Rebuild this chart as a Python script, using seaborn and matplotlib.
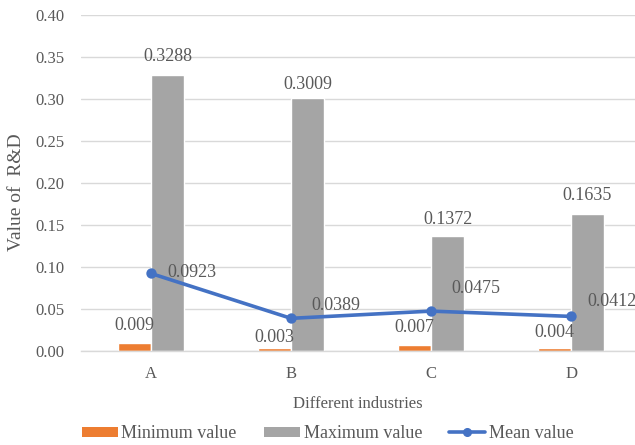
import matplotlib
matplotlib.use("Agg")
import matplotlib.pyplot as plt
from matplotlib.lines import Line2D
from matplotlib.patches import Patch
import pandas as pd
import seaborn as sns

# Data
industries = ["A", "B", "C", "D"]
min_values = [0.009, 0.003, 0.007, 0.004]
max_values = [0.3288, 0.3009, 0.1372, 0.1635]
mean_values = [0.0923, 0.0389, 0.0475, 0.0412]
series_names = ["Minimum value", "Maximum value", "Mean value"]
y_ticks = [0.00, 0.05, 0.10, 0.15, 0.20, 0.25, 0.30, 0.35, 0.40]

# Label offsets (points) for the data labels
min_label_dy = [13, 8, 13, 11]
max_label_dy = [13, 10, 12, 13]
mean_label_offsets = [(12, 1), (15, 9), (15, 16), (12, 11)]

ORANGE = "#ED7D31"
GRAY = "#A5A5A5"
BLUE = "#4472C4"
TEXT = "#595959"
GRID = "#D9D9D9"

sns.set_theme(style="white")
plt.rcParams["font.family"] = ["Liberation Serif", "DejaVu Serif"]

bars = pd.DataFrame({
    "industry": industries * 2,
    "value": min_values + max_values,
    "series": [series_names[0]] * 4 + [series_names[1]] * 4,
})

fig = plt.figure(figsize=(6.35, 4.45), dpi=100)
ax = fig.add_axes([0.1276, 0.2112, 0.8724, 0.7551])

sns.barplot(data=bars, x="industry", y="value", hue="series",
            palette=[ORANGE, GRAY], width=0.472, gap=0, saturation=1,
            errorbar=None, legend=False, ax=ax, zorder=2)
sns.pointplot(x=industries, y=mean_values, color=BLUE, markers="o",
              markersize=5.5, linewidth=2.6, errorbar=None, ax=ax, zorder=4)

ax.set_ylim(0, 0.40)
ax.set_xlim(-0.5, 3.457)
ax.set_yticks(y_ticks)
ax.set_yticklabels([f"{t:.2f}" for t in y_ticks])
ax.yaxis.grid(True, color=GRID, linewidth=1.0, zorder=0)
ax.set_axisbelow(True)
for side in ["top", "right", "left"]:
    ax.spines[side].set_visible(False)
ax.spines["bottom"].set_color(GRID)
ax.spines["bottom"].set_linewidth(1.0)
ax.tick_params(axis="both", length=0, colors=TEXT, labelsize=12)
ax.tick_params(axis="y", pad=12)
ax.tick_params(axis="x", pad=11)

ax.set_xlabel("Different industries", fontsize=12, color=TEXT, labelpad=10)
ax.set_ylabel("Value of  R&D", fontsize=14, color=TEXT)
ax.yaxis.set_label_coords(-0.101, 0.473)

# Data labels
min_bars, max_bars = ax.containers[0], ax.containers[1]
for rect, v, dy in zip(min_bars, min_values, min_label_dy):
    ax.annotate(f"{v:g}", (rect.get_x() + rect.get_width() / 2, v),
                xytext=(0, dy), textcoords="offset points",
                ha="center", va="center", fontsize=13, color=TEXT)
for rect, v, dy in zip(max_bars, max_values, max_label_dy):
    ax.annotate(f"{v:g}", (rect.get_x() + rect.get_width() / 2, v),
                xytext=(0, dy), textcoords="offset points",
                ha="center", va="center", fontsize=13, color=TEXT)
for i, (v, off) in enumerate(zip(mean_values, mean_label_offsets)):
    ax.annotate(f"{v:g}", (i, v), xytext=off, textcoords="offset points",
                ha="left", va="center", fontsize=13, color=TEXT, zorder=5)

handles = [
    Patch(facecolor=ORANGE, edgecolor="none"),
    Patch(facecolor=GRAY, edgecolor="none"),
    Line2D([], [], color=BLUE, linewidth=2.6, marker="o", markersize=5.5),
]
fig.legend(handles, series_names, loc="center", bbox_to_anchor=(0.516, 0.025),
           ncol=3, frameon=False, fontsize=13, handlelength=2.0,
           handleheight=0.55, handletextpad=0.2, columnspacing=1.5,
           labelcolor=TEXT)

fig.savefig("out.png", dpi=100)
